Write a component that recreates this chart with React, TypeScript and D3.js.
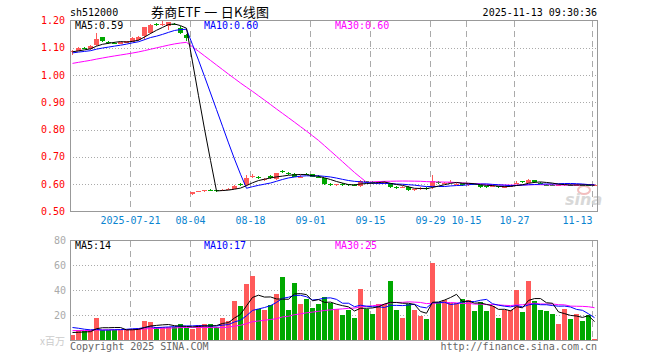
import React from 'react';
import * as d3 from 'd3';

// ---- data ----
const tickIdx = [10, 20, 30, 40, 50, 60, 66, 74, 87];
const tickLabels = ['2025-07-21', '08-04', '08-18', '09-01', '09-15', '09-29', '10-15', '10-27', '11-13'];
const priceTicks = [1.2, 1.1, 1.0, 0.9, 0.8, 0.7, 0.6, 0.5];
const volTicks = [80, 60, 40, 20];

const opens = [
  1.083, 1.090, 1.101, 1.095, 1.111, 1.138, 1.121, 1.119, 1.115, 1.119,
  1.123, 1.128, 1.144, 1.154, 1.186, 1.186, 1.181, 1.188, 1.173, 1.148,
  0.564, 0.572, 0.575, 0.579, 0.578, 0.577, 0.580, 0.584, 0.600, 0.597,
  0.628, 0.625, 0.617, 0.630, 0.618, 0.647, 0.641, 0.637, 0.626, 0.638,
  0.637, 0.628, 0.621, 0.599, 0.598, 0.600, 0.599, 0.598, 0.592, 0.610,
  0.607, 0.605, 0.605, 0.603, 0.588, 0.589, 0.590, 0.579, 0.583, 0.585,
  0.590, 0.607, 0.604, 0.607, 0.600, 0.603, 0.597, 0.601, 0.596, 0.592,
  0.592, 0.592, 0.589, 0.593, 0.603, 0.610, 0.605, 0.615, 0.606, 0.598,
  0.598, 0.596, 0.597, 0.598, 0.596, 0.598, 0.598, 0.595,
];
const closes = [
  1.089, 1.101, 1.099, 1.107, 1.133, 1.124, 1.119, 1.117, 1.121, 1.124,
  1.137, 1.140, 1.175, 1.185, 1.184, 1.189, 1.193, 1.186, 1.154, 1.136,
  0.572, 0.574, 0.577, 0.578, 0.576, 0.579, 0.582, 0.594, 0.598, 0.621,
  0.631, 0.623, 0.619, 0.621, 0.640, 0.645, 0.639, 0.627, 0.628, 0.636,
  0.627, 0.626, 0.600, 0.597, 0.600, 0.598, 0.597, 0.596, 0.613, 0.608,
  0.606, 0.607, 0.607, 0.588, 0.587, 0.590, 0.579, 0.581, 0.585, 0.584,
  0.611, 0.605, 0.606, 0.609, 0.601, 0.597, 0.603, 0.599, 0.590, 0.590,
  0.594, 0.590, 0.591, 0.595, 0.606, 0.608, 0.617, 0.607, 0.604, 0.596,
  0.596, 0.598, 0.599, 0.596, 0.598, 0.596, 0.596, 0.596,
];
const highs = [
  1.092, 1.103, 1.104, 1.109, 1.155, 1.140, 1.124, 1.121, 1.123, 1.126,
  1.139, 1.145, 1.178, 1.188, 1.190, 1.200, 1.196, 1.192, 1.180, 1.150,
  0.573, 0.576, 0.578, 0.582, 0.580, 0.582, 0.585, 0.596, 0.605, 0.633,
  0.638, 0.630, 0.624, 0.632, 0.642, 0.652, 0.645, 0.640, 0.632, 0.642,
  0.639, 0.632, 0.623, 0.603, 0.602, 0.603, 0.602, 0.601, 0.615, 0.613,
  0.610, 0.610, 0.611, 0.605, 0.592, 0.594, 0.592, 0.584, 0.588, 0.588,
  0.633, 0.610, 0.609, 0.615, 0.604, 0.605, 0.605, 0.604, 0.598, 0.595,
  0.597, 0.595, 0.594, 0.597, 0.610, 0.613, 0.619, 0.617, 0.609, 0.601,
  0.600, 0.600, 0.602, 0.600, 0.601, 0.600, 0.600, 0.598,
];
const lows = [
  1.075, 1.088, 1.096, 1.093, 1.108, 1.121, 1.115, 1.113, 1.113, 1.117,
  1.121, 1.125, 1.130, 1.150, 1.180, 1.180, 1.165, 1.182, 1.150, 1.125,
  0.562, 0.570, 0.573, 0.575, 0.572, 0.575, 0.578, 0.582, 0.594, 0.595,
  0.622, 0.618, 0.612, 0.619, 0.616, 0.640, 0.635, 0.625, 0.622, 0.632,
  0.625, 0.622, 0.598, 0.592, 0.592, 0.594, 0.593, 0.592, 0.589, 0.604,
  0.602, 0.601, 0.602, 0.585, 0.583, 0.585, 0.576, 0.576, 0.580, 0.580,
  0.581, 0.601, 0.601, 0.604, 0.597, 0.595, 0.595, 0.596, 0.587, 0.587,
  0.589, 0.587, 0.586, 0.590, 0.601, 0.604, 0.603, 0.605, 0.601, 0.592,
  0.593, 0.593, 0.594, 0.592, 0.593, 0.593, 0.593, 0.594,
];
const volumes = [
  4, 8, 7.2, 8, 17.9, 8, 8, 8, 8, 8.5,
  8.5, 9.3, 15.5, 14.4, 10.7, 10.7, 10.7, 10.7, 12.8, 9.3,
  9, 12.3, 12.8, 12.8, 10.7, 17.6, 15.5, 31.5, 27.2, 44.8,
  51.2, 24.5, 24, 27.7, 36.8, 50.4, 24, 45.6, 28.8, 32.8,
  25.6, 28.8, 34.4, 30, 24.5, 19.7, 24, 17.9, 40.8, 24.5,
  21, 28.8, 28.8, 47.5, 24, 17.9, 28.8, 24, 19.5, 16.8,
  61.9, 29.6, 32, 29.6, 29.6, 32.8, 32, 23.5, 30.4, 23.5,
  27.2, 17.9, 24, 24, 40, 22.7, 47.5, 31.5, 24, 23.2,
  20.8, 12.8, 24.8, 16.8, 20.8, 15.2, 19.7, 0.8,
];
// estimated history before the visible window (only feeds the moving averages)
const priorCloses = [
  0.985, 0.99, 0.995, 1.0, 1.005, 0.998, 1.01, 1.015, 1.02, 1.025,
  1.02, 1.03, 1.035, 1.03, 1.04, 1.045, 1.05, 1.055, 1.06, 1.065,
  1.07, 1.075, 1.08, 1.078, 1.082, 1.085, 1.08, 1.088, 1.085,
];
const priorVolumes = [
  6, 7, 5, 6, 8, 6, 7, 5, 6, 7, 6, 5, 7, 6, 6, 8, 6, 5, 7, 6,
  14, 15, 13, 14, 14, 7, 6, 7, 6,
];

const RED = '#ff5a5a';
const GREEN = '#00a800';
const FONT = '"DejaVu Sans Mono", "Liberation Mono", monospace';

function movingAvg(vals: number[], prior: number[], n: number) {
  const all = prior.concat(vals);
  const off = prior.length;
  return vals.map((_, i) => {
    const end = off + i + 1;
    const start = Math.max(0, end - n);
    return d3.mean(all.slice(start, end)) as number;
  });
}

export default function App() {
  const L = 70, R = 597;
  const x = d3.scaleLinear().domain([0, 88]).range([L, L + 88 * 6]);
  const bw = 5;
  const cx = (i: number) => x(i) + 2.5;
  const y = d3.scaleLinear().domain([0.5, 1.2]).range([211.5, 20.5]);
  const yv = d3.scaleLinear().domain([0, 80]).range([340, 240]);

  const idx = d3.range(opens.length);
  const up = idx.map(i => closes[i] >= opens[i]);

  const pMA5 = movingAvg(closes, priorCloses, 5);
  const pMA10 = movingAvg(closes, priorCloses, 10);
  const pMA30 = movingAvg(closes, priorCloses, 30);
  const vMA5 = movingAvg(volumes, priorVolumes, 5);
  const vMA10 = movingAvg(volumes, priorVolumes, 10);
  const vMA30 = movingAvg(volumes, priorVolumes, 30);

  const lineP = d3.line<number>().x((_, i) => cx(i)).y(d => y(d));
  const lineV = d3.line<number>().x((_, i) => cx(i)).y(d => yv(d));

  const gridColor = '#aaaaaa';

  return (
    <svg width={660} height={360} style={{ position: 'absolute', left: 0, top: 0, background: '#fff' }}
      fontFamily={FONT} fontSize={10}>
      <rect x={0} y={0} width={660} height={360} fill="#fff" />
      {/* header */}
      <text x={70} y={16} fill="#000">sh512000</text>
      <text x={151} y={17} fontFamily='"Noto Sans CJK SC", sans-serif' fontSize={13} fill="#000"
        textLength={118} lengthAdjust="spacing">券商ETF 一 日K线图</text>
      <text x={597} y={16} textAnchor="end" fill="#000">2025-11-13 09:30:36</text>

      {/* price grid */}
      <g shapeRendering="crispEdges">
        {priceTicks.filter(t => t < 1.15 && t > 0.55).map(t => (
          <line key={t} x1={L} x2={R} y1={Math.round(y(t)) + 0.5} y2={Math.round(y(t)) + 0.5}
            stroke={gridColor} strokeDasharray="1,2" />
        ))}
        {tickIdx.map(k => (
          <line key={'pv' + k} x1={x(k) + 0.5} x2={x(k) + 0.5} y1={21} y2={211}
            stroke={gridColor} strokeDasharray="6,4" />
        ))}
        {volTicks.filter(t => t < 80).map(t => (
          <line key={'vg' + t} x1={L} x2={R} y1={yv(t) + 0.5} y2={yv(t) + 0.5}
            stroke={gridColor} strokeDasharray="1,2" />
        ))}
        {tickIdx.map(k => (
          <line key={'vv' + k} x1={x(k) + 0.5} x2={x(k) + 0.5} y1={241} y2={340}
            stroke={gridColor} strokeDasharray="6,4" />
        ))}
      </g>

      {/* sina watermark */}
      <g opacity={0.9}>
        <ellipse cx={584} cy={190} rx={6} ry={4} fill="none" stroke="#f2b8b8" strokeWidth={2} />
        <text x={565} y={205} fontFamily='"DejaVu Sans", sans-serif' fontSize={16} fontWeight="bold"
          fontStyle="italic" fill="#d4d4d4">sina</text>
      </g>

      {/* candles */}
      <g shapeRendering="crispEdges">
        {idx.map(i => {
          const col = up[i] ? RED : GREEN;
          const top = Math.round(y(Math.max(opens[i], closes[i])));
          const bot = Math.round(y(Math.min(opens[i], closes[i])));
          const h = Math.max(1, bot - top);
          return (
            <g key={i}>
              <line x1={cx(i)} x2={cx(i)} y1={y(highs[i])} y2={y(lows[i])} stroke={col} />
              <rect x={x(i)} y={top} width={bw} height={h} fill={col} />
            </g>
          );
        })}
      </g>
      <path d={lineP(pMA30) || ''} fill="none" stroke="#ff00ff" strokeWidth={1} />
      <path d={lineP(pMA10) || ''} fill="none" stroke="#0000ff" strokeWidth={1} />
      <path d={lineP(pMA5) || ''} fill="none" stroke="#000" strokeWidth={1} />

      {/* volume bars */}
      <g shapeRendering="crispEdges">
        {idx.map(i => (
          <rect key={i} x={x(i)} y={yv(volumes[i])} width={bw} height={Math.max(1, 340 - yv(volumes[i]))}
            fill={up[i] ? RED : GREEN} />
        ))}
      </g>
      <path d={lineV(vMA30) || ''} fill="none" stroke="#ff00ff" strokeWidth={1} />
      <path d={lineV(vMA10) || ''} fill="none" stroke="#0000ff" strokeWidth={1} />
      <path d={lineV(vMA5) || ''} fill="none" stroke="#000" strokeWidth={1} />

      {/* frames */}
      <g shapeRendering="crispEdges" fill="none" stroke="#999">
        <rect x={70.5} y={20.5} width={527} height={191} />
        <rect x={70.5} y={240.5} width={527} height={100} />
      </g>

      {/* price axis labels */}
      {priceTicks.map(t => (
        <text key={t} x={65} y={y(t) + 3.5} textAnchor="end" fill="#ff0000">{t.toFixed(2)}</text>
      ))}
      {/* date labels */}
      {tickIdx.map((k, j) => {
        const px = x(k) + 0.5;
        const w = tickLabels[j].length * 6;
        const anchorEnd = px + w / 2 > R;
        return (
          <text key={k} x={anchorEnd ? px : px} y={224} textAnchor={anchorEnd ? 'end' : 'middle'}
            fill="#0a84d0">{tickLabels[j]}</text>
        );
      })}
      {/* volume axis labels */}
      {volTicks.map(t => (
        <text key={t} x={66} y={yv(t) + (t === 80 ? 4 : 3.5)} textAnchor="end" fill="#aaaaaa">{t}</text>
      ))}
      <text x={65} y={345} textAnchor="end" fill="#cccccc" fontFamily='"Noto Sans CJK SC", sans-serif' fontSize={10}>x百万</text>

      {/* legends */}
      <text x={75} y={29} fill="#000">MA5:0.59</text>
      <text x={204} y={29} fill="#0000ff">MA10:0.60</text>
      <text x={335} y={29} fill="#ff00ff">MA30:0.60</text>
      <text x={75} y={249} fill="#000">MA5:14</text>
      <text x={204} y={249} fill="#0000ff">MA10:17</text>
      <text x={335} y={249} fill="#ff00ff">MA30:25</text>

      {/* footer */}
      <text x={70} y={350} fill="#666">Copyright 2025 SINA.COM</text>
      <text x={597} y={350} textAnchor="end" fill="#666">http://finance.sina.com.cn</text>
    </svg>
  );
}
